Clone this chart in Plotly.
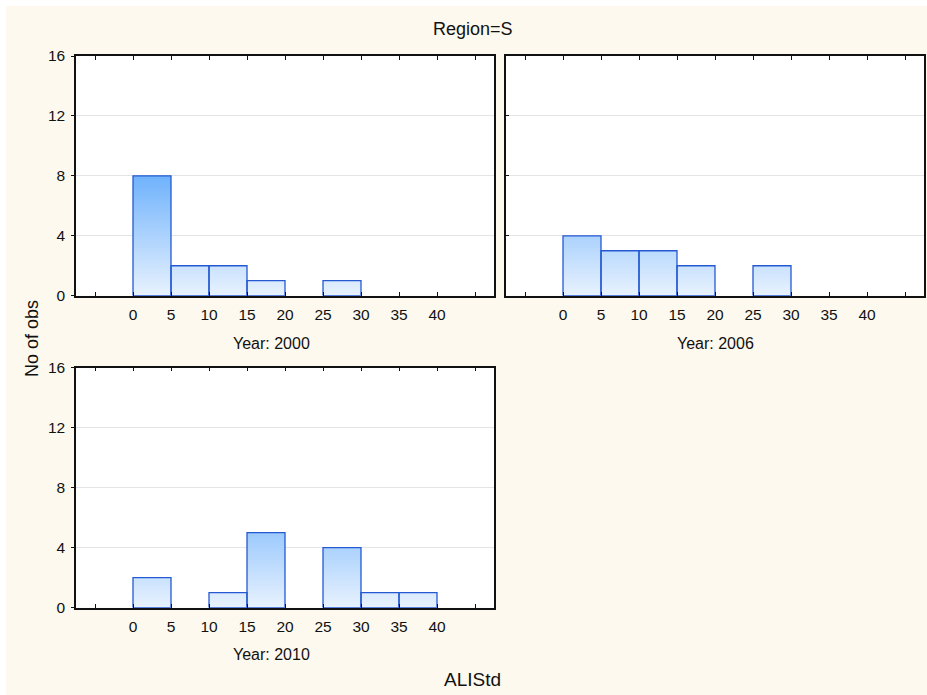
import plotly.graph_objects as go

# ---- data ----
bin_edges = [0, 5, 10, 15, 20, 25, 30, 35, 40]
years = ["2000", "2006", "2010"]
counts_2000 = [8, 2, 2, 1, 0, 1, 0, 0]
counts_2006 = [4, 3, 3, 2, 0, 2, 0, 0]
counts_2010 = [2, 0, 1, 5, 0, 4, 1, 1]
x_tick_vals = [-5, 0, 5, 10, 15, 20, 25, 30, 35, 40, 45]
x_tick_text = ["", "0", "5", "10", "15", "20", "25", "30", "35", "40", ""]
y_tick_vals = [0, 4, 8, 12, 16]

W, H = 927, 695
FONT = "Liberation Sans, Arial, sans-serif"
CREAM = "#FDF9EE"
EDGE = "#2459D2"


def bar_polys(edges, counts):
    xs, ys = [], []
    for i, c in enumerate(counts):
        if c <= 0:
            continue
        l, r = edges[i], edges[i + 1]
        xs += [l, l, r, r, l, None]
        ys += [0, c, c, 0, 0, None]
    return xs, ys


fig = go.Figure()
series = [counts_2000, counts_2006, counts_2010]
for k, cnts in enumerate(series):
    xs, ys = bar_polys(bin_edges, cnts)
    sfx = "" if k == 0 else str(k + 1)
    fig.add_trace(go.Scatter(
        x=xs, y=ys, mode="lines", fill="toself",
        line=dict(color=EDGE, width=1.3),
        fillgradient=dict(type="vertical", start=0, stop=8,
                          colorscale=[[0, "#E8F2FE"], [1, "#6FB2FC"]]),
        xaxis="x" + sfx, yaxis="y" + sfx, showlegend=False,
        hoverinfo="skip"))


def px(v):
    return v / W


def py(v):
    return 1 - v / H


doms = [
    ((76, 494), (56, 295.7)),
    ((506, 924), (56, 295.7)),
    ((76, 494), (367.7, 607.7)),
]

layout = dict(
    template="none",
    width=W, height=H, margin=dict(l=0, r=0, t=0, b=0, pad=0),
    paper_bgcolor=CREAM, plot_bgcolor="white",
    font=dict(family=FONT, size=15.5, color="#111"),
    showlegend=False,
)
for k, ((x0, x1), (y0, y1)) in enumerate(doms):
    sfx = "" if k == 0 else str(k + 1)
    layout["xaxis" + sfx] = dict(
        domain=[px(x0), px(x1)], range=[-7.5, 47.5], anchor="y" + sfx,
        tickmode="array", tickvals=x_tick_vals, ticktext=x_tick_text,
        ticks="inside", ticklen=4, tickcolor="#111", tickwidth=1.2,
        showline=True, linecolor="#111", linewidth=1.5, mirror="ticks",
        showgrid=False, zeroline=False, ticklabelstandoff=4,
        automargin=False, tickfont=dict(size=15.5))
    layout["yaxis" + sfx] = dict(
        domain=[py(y1), py(y0)], range=[0, 16], anchor="x" + sfx,
        tickmode="array", tickvals=y_tick_vals,
        ticks="outside" if k != 1 else "inside", ticklen=3,
        tickcolor="#111", tickwidth=1.2,
        showticklabels=(k != 1),
        showline=True, linecolor="#111", linewidth=1.5, mirror=True,
        showgrid=True, gridcolor="#E4E4E4", gridwidth=1, zeroline=False,
        ticklabelstandoff=3, automargin=False, tickfont=dict(size=15.5))
    # right-side inside ticks
    layout["yaxis" + str(k + 4)] = dict(
        overlaying="y" + sfx, side="right", anchor="x" + sfx, range=[0, 16],
        tickmode="array", tickvals=y_tick_vals, ticks="inside", ticklen=3,
        tickcolor="#111", tickwidth=1.2, showticklabels=False,
        showline=False, showgrid=False, zeroline=False, automargin=False)

fig.update_layout(**layout)

# white outer strips
fig.add_shape(type="rect", xref="paper", yref="paper", x0=0, x1=1,
              y0=py(6), y1=1, fillcolor="white", line_width=0, layer="below")
fig.add_shape(type="rect", xref="paper", yref="paper", x0=0, x1=px(6),
              y0=0, y1=1, fillcolor="white", line_width=0, layer="below")

ann = [
    ("Region=S", 473, 29, 18, 0),
    ("Year: " + years[0], 271, 343, 16, 0),
    ("Year: " + years[1], 715, 343, 16, 0),
    ("Year: " + years[2], 271, 654.5, 16, 0),
    ("ALIStd", 472, 679, 19, 0),
    ("No of obs", 32, 338, 18, -90),
]
for text, x, y, size, ang in ann:
    fig.add_annotation(text=text, xref="paper", yref="paper", x=px(x), y=py(y),
                       xanchor="center", yanchor="middle", showarrow=False,
                       textangle=ang, font=dict(family=FONT, size=size, color="#111"))

fig.write_html("out.html", config={"displayModeBar": False},
               post_script="document.body.style.margin='0px';")
